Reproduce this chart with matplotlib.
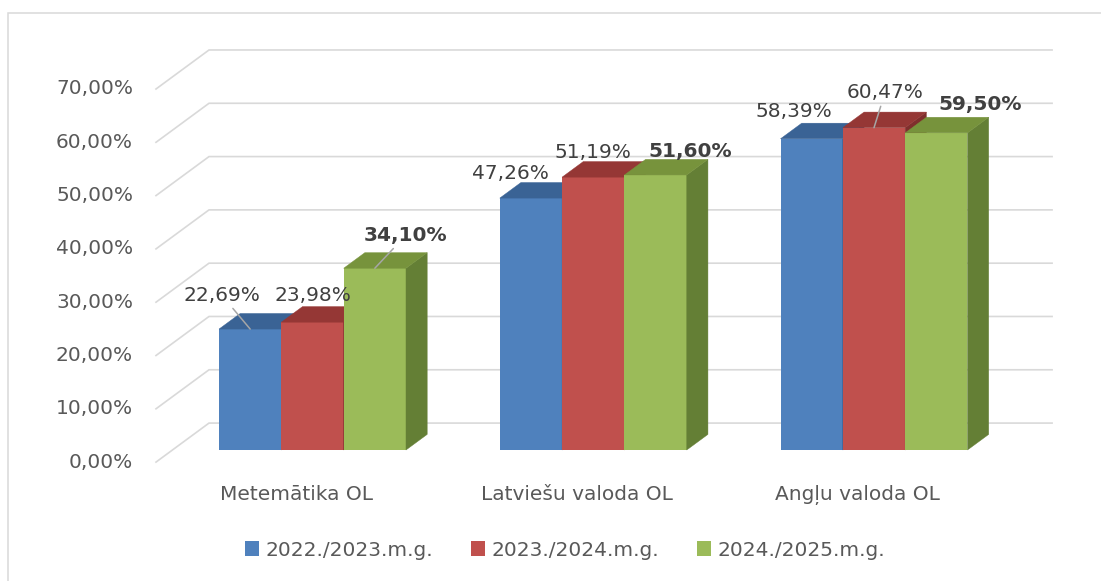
import matplotlib
matplotlib.use('Agg')
import matplotlib.pyplot as plt
from matplotlib.patches import Polygon, Patch, Rectangle

# ---------------- data ----------------
categories = ['Metemātika OL', 'Latviešu valoda OL', 'Angļu valoda OL']
series_names = ['2022./2023.m.g.', '2023./2024.m.g.', '2024./2025.m.g.']
values_2022 = [22.69, 47.26, 58.39]
values_2023 = [23.98, 51.19, 60.47]
values_2024 = [34.10, 51.60, 59.50]
y_ticks = [0, 10, 20, 30, 40, 50, 60, 70]

series_values = [values_2022, values_2023, values_2024]

# ---------------- style / layout ----------------
front_cols = ['#4F81BD', '#C0504D', '#9BBB59']
top_cols = ['#3A6395', '#953735', '#77933C']
side_cols = ['#335683', '#7F2F2D', '#647F35']
bold_series = [False, False, True]
grid_col = '#D9D9D9'
text_col = '#595959'
label_col = '#404040'
FS = 14.5
plt.rcParams['font.family'] = ['DejaVu Sans']

W = 0.222          # bar width (category units)
DX = 0.1888        # full depth offset, x (category units)
DY = 7.32          # full depth offset, y (percent units)
F0, F1 = 0.31, 0.71  # bar front / back depth fraction
XL, XR = -0.4989, 2.504  # wall extent in x

# label offsets in pixels (dx, dy-up) relative to bar top centre
label_off = [
    [(-28.5, 34), (-20, 25), (-17.5, 27)],
    [(0, 27), (0, 25), (11, 35)],
    [(31, 33), (35, 23), (44, 28)],
]
leader = [
    [True, False, False],
    [False, False, True],
    [True, False, False],
]


def proj(x, z, d):
    return (x + (d - F0) * DX, z + (d - F0) * DY)


fig = plt.figure(figsize=(11.01, 5.81), dpi=100)
ax = fig.add_axes([0, 0, 1, 1])
ax.set_xlim(-312.5 / 280.75, (1101 - 312.5) / 280.75)
ax.set_ylim((450 - 581) / 5.33, 450 / 5.33)
ax.axis('off')

# chart frame
fig.patches.append(Rectangle((7.5 / 1101, -0.1), 1.2, (581 - 13) / 581 + 0.1,
                             transform=fig.transFigure, fill=False,
                             edgecolor=grid_col, lw=1.1, zorder=0))

# gridlines on side wall and back wall
for v in y_ticks:
    p0 = proj(XL, v, 0)
    p1 = proj(XL, v, 1)
    p2 = proj(XR, v, 1)
    ax.plot([p0[0], p1[0], p2[0]], [p0[1], p1[1], p2[1]], color=grid_col,
            lw=1.2, zorder=1, solid_joinstyle='miter')
    ax.annotate(f"{v:.2f}".replace('.', ',') + '%', xy=p0,
                xytext=(-23 * 0.72, 0), textcoords='offset points',
                ha='right', va='center', fontsize=FS, color=text_col)

# bars
for s, vals in enumerate(series_values):
    xs = [i + (s - 1) * W for i in range(len(categories))]
    ax.bar(xs, vals, width=W, color=front_cols[s], linewidth=0,
           zorder=3 + s, label=series_names[s])
    for i, (xc, v) in enumerate(zip(xs, vals)):
        xl, xr = xc - W / 2, xc + W / 2
        top = [proj(xl, v, F0), proj(xr, v, F0), proj(xr, v, F1), proj(xl, v, F1)]
        side = [proj(xr, 0, F0), proj(xr, v, F0), proj(xr, v, F1), proj(xr, 0, F1)]
        ax.add_patch(Polygon(side, closed=True, facecolor=side_cols[s],
                             edgecolor=side_cols[s], lw=0.3, zorder=3 + s))
        ax.add_patch(Polygon(top, closed=True, facecolor=top_cols[s],
                             edgecolor=top_cols[s], lw=0.3, zorder=3 + s))
        ox, oy = label_off[s][i]
        txt = f"{v:.2f}".replace('.', ',') + '%'
        kw = dict(xy=(xc, v), xytext=(ox * 0.72, oy * 0.72),
                  textcoords='offset points', ha='center', va='center',
                  fontsize=FS, color=label_col, zorder=10,
                  fontweight='bold' if bold_series[s] else 'normal')
        if leader[s][i]:
            kw['arrowprops'] = dict(arrowstyle='-', color='#A6A6A6', lw=1.1,
                                    shrinkA=1, shrinkB=0)
        ax.annotate(txt, **kw)

# category labels
for i, c in enumerate(categories):
    ax.annotate(c, xy=proj(i, 0, 0), xytext=(0, -37.5 * 0.72),
                textcoords='offset points', ha='center', va='baseline',
                fontsize=FS, color=text_col)

handles = [Patch(facecolor=front_cols[s], edgecolor='none', label=series_names[s])
           for s in range(3)]
leg = fig.legend(handles=handles, loc='center', ncol=3, frameon=False,
                 bbox_to_anchor=(565 / 1101, 1 - 550 / 581), fontsize=FS,
                 handlelength=0.7, handleheight=0.7, handletextpad=0.3,
                 columnspacing=1.9, borderpad=0)
for t in leg.get_texts():
    t.set_color(text_col)

fig.savefig('out.png', dpi=100)
